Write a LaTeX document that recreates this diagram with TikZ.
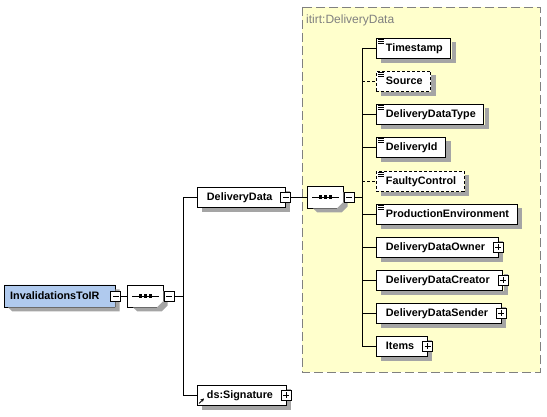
\documentclass[tikz,border=0pt]{standalone}
\usepackage{fontspec}
\setmainfont{Liberation Sans}
\usetikzlibrary{shapes.misc,arrows.meta,calc}
\definecolor{yel}{RGB}{255,255,204}
\definecolor{rootblue}{RGB}{176,202,238}
\definecolor{dashgray}{RGB}{128,128,128}
\definecolor{shadowgray}{RGB}{165,165,165}
\tikzset{
 elfont/.style={font=\bfseries\fontsize{10.8}{13}\selectfont},
 elbox/.style={rectangle, draw=black, line width=0.9pt, fill=white, minimum height=20pt, inner sep=0pt, anchor=west, elfont, text height=10pt, text depth=2.3pt},
 optbox/.style={elbox, dash pattern=on 3pt off 2pt},
 lbl/.style={elfont, anchor=base west, inner sep=0pt},
 grplbl/.style={font=\fontsize{12}{14}\selectfont, text=dashgray, anchor=base west, inner sep=0pt},
 pmbox/.style={rectangle, draw=black, line width=0.9pt, fill=white, minimum size=10pt, inner sep=0pt},
 minusbox/.style={pmbox, path picture={\draw[line width=0.9pt] ([xshift=-3pt]path picture bounding box.center) -- ([xshift=3pt]path picture bounding box.center);}},
 plusbox/.style={pmbox, path picture={\draw[line width=0.9pt] ([xshift=-3pt]path picture bounding box.center) -- ([xshift=3pt]path picture bounding box.center) ([yshift=-3pt]path picture bounding box.center) -- ([yshift=3pt]path picture bounding box.center);}},
 conn/.style={line width=0.9pt, draw=black},
 optconn/.style={conn, dash pattern=on 3pt off 2pt},
 seqbox/.style={chamfered rectangle, chamfered rectangle xsep=6pt, chamfered rectangle ysep=6pt, minimum width=36pt, minimum height=22pt, inner sep=0pt, draw=black, line width=0.9pt, fill=white, anchor=west},
 rootbox/.style={chamfered rectangle, chamfered rectangle corners={north west,south west}, chamfered rectangle xsep=4pt, chamfered rectangle ysep=4pt, minimum width=111pt, minimum height=22pt, inner sep=0pt, draw=black, line width=0.9pt, fill=rootblue, anchor=west},
 grpbox/.style={draw=dashgray, fill=yel, line width=0.9pt, dash pattern=on 9pt off 4pt},
 shadowfill/.style={fill=shadowgray, draw=none},
}
% #1 style, #2 name, #3 x, #4 y, #5 text, #6 right padding
\newcommand\mkel[6]{%
 \node[#1] (#2) at (#3,#4) {\hspace*{9.5pt}#5\hspace*{#6pt}};
 \fill[shadowfill] ($(#2.north east)+(0.45,4.5)$) rectangle ($(#2.south east)+(4.5,4.5)$);
 \fill[shadowfill] ($(#2.south west)+(4.5,0.45)$) rectangle ($(#2.south east)+(4.5,4.5)$);
}
% shadow band of an octagon: #1 L, #2 R, #3 T, #4 B
\newcommand\octshadow[4]{%
 \fill[shadowfill] (#2+0.45,#3+6) -- (#2+4.5,#3+10.5) -- (#2+4.5,#4-1.5) -- (#2-1.5,#4+4.5) -- (#1+10.5,#4+4.5) -- (#1+6,#4+0.45) -- (#2-6,#4+0.45) -- (#2+0.45,#4-6) -- cycle;
}
\newcommand\mkicon[1]{%
 \draw[line width=0.8pt] ([xshift=2pt,yshift=-1.5pt]#1.north west) -- ++(5.5pt,0)
   ([xshift=2pt,yshift=-3.5pt]#1.north west) -- ++(5.5pt,0)
   ([xshift=2pt,yshift=-5.5pt]#1.north west) -- ++(5.5pt,0);
}
\newcommand\mkseqsym[1]{%
 \draw[line width=0.9pt] ([xshift=5pt]#1.west) -- ([xshift=-5pt]#1.east);
 \foreach \d in {-5,0,5} \fill ([xshift=\d pt]#1.center) +(-1.8pt,-1.8pt) rectangle +(1.8pt,1.8pt);
}
\begin{document}
\begin{tikzpicture}[x=1pt,y=-1pt]
\useasboundingbox (0,0) rectangle (547,417);
\fill[white] (0,0) rectangle (547,417);
\draw[grpbox] (302,7) rectangle (540,372);
\node[grplbl] (grplabel) at (306,24) {itirt:DeliveryData};
% root
\node[rootbox] (root) at (4,296) {};
\fill[shadowfill] (8,307.45) -- (115.45,307.45) -- (115.45,289.5) -- (119.5,289.5) -- (119.5,311.5) -- (12.5,311.5) -- cycle;
\node[lbl] (root-t) at ([xshift=6pt,yshift=-3.9pt]root.west) {InvalidationsToIR};
\node[minusbox] (rootm) at (root.east) {};
% first sequence
\node[seqbox] (seq1) at (127,296) {};
\octshadow{127}{163}{285}{307}
\mkseqsym{seq1}
\node[minusbox, anchor=west] (seq1m) at (seq1.east) {};
\coordinate (bus1) at (183,296);
% DeliveryData
\mkel{elbox}{dd}{197}{197}{DeliveryData}{13}
\node[minusbox] (ddm) at (dd.east) {};
% second sequence
\node[seqbox] (seq2) at (307,197) {};
\octshadow{307}{343}{186}{208}
\mkseqsym{seq2}
\node[minusbox, anchor=west] (seq2m) at (seq2.east) {};
\coordinate (bus2) at (362,197);
% Signature
\mkel{elbox}{sig}{197}{395}{ds:Signature}{13}
\node[plusbox] (sigm) at (sig.east) {};
\draw[line width=0.8pt, -{Stealth[length=3.5pt,width=3.5pt]}] ([xshift=2pt,yshift=2pt]sig.south west) -- ++(5pt,5pt);
% children
\mkel{elbox}{c1}{376}{48}{Timestamp}{8}
\mkel{optbox}{c2}{376}{81}{Source}{8}
\mkel{elbox}{c3}{376}{114}{DeliveryDataType}{8}
\mkel{elbox}{c4}{376}{147}{DeliveryId}{8}
\mkel{optbox}{c5}{376}{181}{FaultyControl}{8}
\mkel{elbox}{c6}{376}{214}{ProductionEnvironment}{8}
\mkel{elbox}{c7}{376}{247}{DeliveryDataOwner}{13}
\node[plusbox] (c7p) at (c7.east) {};
\mkel{elbox}{c8}{376}{280}{DeliveryDataCreator}{13}
\node[plusbox] (c8p) at (c8.east) {};
\mkel{elbox}{c9}{376}{313}{DeliveryDataSender}{13}
\node[plusbox] (c9p) at (c9.east) {};
\mkel{elbox}{c10}{376}{346}{Items}{13}
\node[plusbox] (c10p) at (c10.east) {};
\foreach \c in {c1,c2,c3,c4,c5,c6} {\mkicon{\c}}
% connectors
\draw[conn] (rootm.east) -- (seq1.west);
\draw[conn] (seq1m.east) -- (bus1);
\draw[conn] (dd.west) -- (dd.west -| bus1) -- (sig.west -| bus1) -- (sig.west);
\draw[conn] (ddm.east) -- (seq2.west);
\draw[conn] (seq2m.east) -- (bus2);
\draw[conn] (c1.west -| bus2) -- (c10.west -| bus2);
\foreach \c in {c1,c3,c4,c6,c7,c8,c9,c10} {\draw[conn] (\c.west -| bus2) -- (\c.west);}
\foreach \c in {c2,c5} {\draw[optconn] (\c.west -| bus2) -- (\c.west);}
\end{tikzpicture}
\end{document}
